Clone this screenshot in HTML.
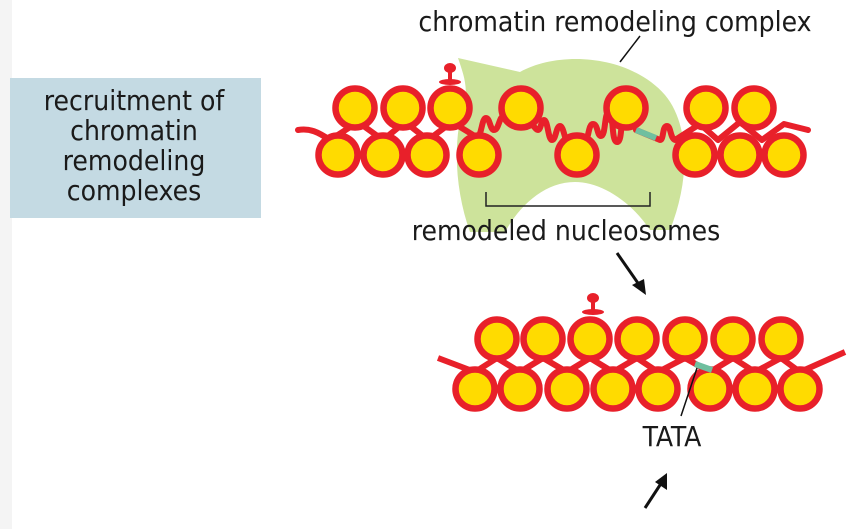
<!DOCTYPE html>
<html><head><meta charset="utf-8"><style>
html,body{margin:0;padding:0;background:#fff;}
svg{display:block}
text{font-family:"DejaVu Sans Condensed","Liberation Sans",sans-serif;fill:#1a1a1a}
</style></head><body>
<svg width="858" height="529" viewBox="0 0 858 529" xmlns="http://www.w3.org/2000/svg">
<rect x="0" y="0" width="858" height="529" fill="#fff"/>
<rect x="0" y="0" width="12" height="529" fill="#f4f4f4"/>
<rect x="10" y="78" width="251" height="140" fill="#c4dae3"/>
<g font-size="28" text-anchor="middle">
<text x="134" y="110">recruitment of</text>
<text x="134" y="140">chromatin</text>
<text x="134" y="170">remodeling</text>
<text x="134" y="200">complexes</text>
</g>
<text x="615" y="31" font-size="28" text-anchor="middle">chromatin remodeling complex</text>
<line x1="620" y1="62" x2="640" y2="36" stroke="#111" stroke-width="1.5"/>
<path d="M458,58 L520,72 C560,50 630,55 665,95 C690,125 690,180 670,230 L650,230 C630,200 600,182 575,182 C545,182 520,205 505,232 L470,232 C455,190 452,140 465,100 C468,85 462,70 458,58 Z" fill="#cde39b"/>
<path d="M486,192 V206 H650 V192" fill="none" stroke="#222" stroke-width="1.5"/>
<text x="566" y="240" font-size="28" text-anchor="middle">remodeled nucleosomes</text>
<g fill="none" stroke="#e8202a" stroke-width="6" stroke-linejoin="round" stroke-linecap="round">
<path d="M298,130 C310,128 318,132 330,140 L358,122 L383,140 L405,122 L428,140 L452,122 L478,138"/>
<path d="M478,138 c4,-6 4,-20 8,-20 c4,0 4,12 8,12 c5,0 5,-14 10,-14 l10,-4"/>
<path d="M528,120 c6,6 8,10 10,10 c3,0 3,-10 6,-10 c4,0 4,20 8,20 c4,0 4,-14 8,-14 c4,0 5,18 9,18"/>
<path d="M585,140 c4,0 3,-16 8,-16 c5,0 4,12 8,12 c5,0 3,-24 8,-24 c5,0 2,30 8,30 c6,0 3,-26 8,-34"/>
<path d="M636,130 L660,140 c4,0 2,-14 7,-14 c4,0 3,12 8,14 L700,124 L718,140 L740,122 L762,140 L784,124 L808,130"/>
</g>
<path d="M636,130 L656,138" stroke="#6fbf9f" stroke-width="6"/>
<g fill="#ffdb00" stroke="#e8202a" stroke-width="6.5">
<circle cx="355" cy="108" r="19.5"/><circle cx="403" cy="108" r="19.5"/><circle cx="450" cy="108" r="19.5"/>
<circle cx="521" cy="108" r="19.5"/><circle cx="626" cy="108" r="19.5"/><circle cx="706" cy="108" r="19.5"/><circle cx="754" cy="108" r="19.5"/>
<circle cx="338" cy="155" r="19.5"/><circle cx="383" cy="155" r="19.5"/><circle cx="427" cy="155" r="19.5"/><circle cx="479" cy="155" r="19.5"/>
<circle cx="577" cy="155" r="19.5"/><circle cx="695" cy="155" r="19.5"/><circle cx="740" cy="155" r="19.5"/><circle cx="784" cy="155" r="19.5"/>
</g>
<g fill="#e8202a">
<ellipse cx="450" cy="68" rx="6" ry="5"/><rect x="448" y="70" width="4" height="10"/><ellipse cx="450" cy="82" rx="11" ry="3"/>
<ellipse cx="593" cy="298" rx="6" ry="5"/><rect x="591" y="300" width="4" height="10"/><ellipse cx="593" cy="312" rx="11" ry="3"/>
</g>
<line x1="617" y1="253" x2="640" y2="286" stroke="#111" stroke-width="3"/>
<polygon points="646,295 632,285 644,279" fill="#111"/>
<line x1="645" y1="508" x2="662" y2="482" stroke="#111" stroke-width="3"/>
<polygon points="667,473 667,490 655,482" fill="#111"/>
<polyline points="438,358 475,372 497,358 520,372 543,358 567,372 590,358 613,372 637,358 658,372 685,358 710,372 733,358 755,372 781,358 800,372 845,352" fill="none" stroke="#e8202a" stroke-width="6" stroke-linejoin="round"/>
<g fill="#ffdb00" stroke="#e8202a" stroke-width="6.5">
<circle cx="497" cy="339" r="19.5"/><circle cx="543" cy="339" r="19.5"/><circle cx="590" cy="339" r="19.5"/><circle cx="637" cy="339" r="19.5"/>
<circle cx="685" cy="339" r="19.5"/><circle cx="733" cy="339" r="19.5"/><circle cx="781" cy="339" r="19.5"/>
<circle cx="475" cy="389" r="19.5"/><circle cx="520" cy="389" r="19.5"/><circle cx="567" cy="389" r="19.5"/><circle cx="613" cy="389" r="19.5"/>
<circle cx="658" cy="389" r="19.5"/><circle cx="710" cy="389" r="19.5"/><circle cx="755" cy="389" r="19.5"/><circle cx="800" cy="389" r="19.5"/>
</g>
<line x1="695" y1="364" x2="712" y2="370" stroke="#6fbf9f" stroke-width="6"/>
<line x1="697" y1="368" x2="681" y2="416" stroke="#111" stroke-width="1.5"/>
<text x="672" y="446" font-size="28" text-anchor="middle">TATA</text>
</svg>
</body></html>
